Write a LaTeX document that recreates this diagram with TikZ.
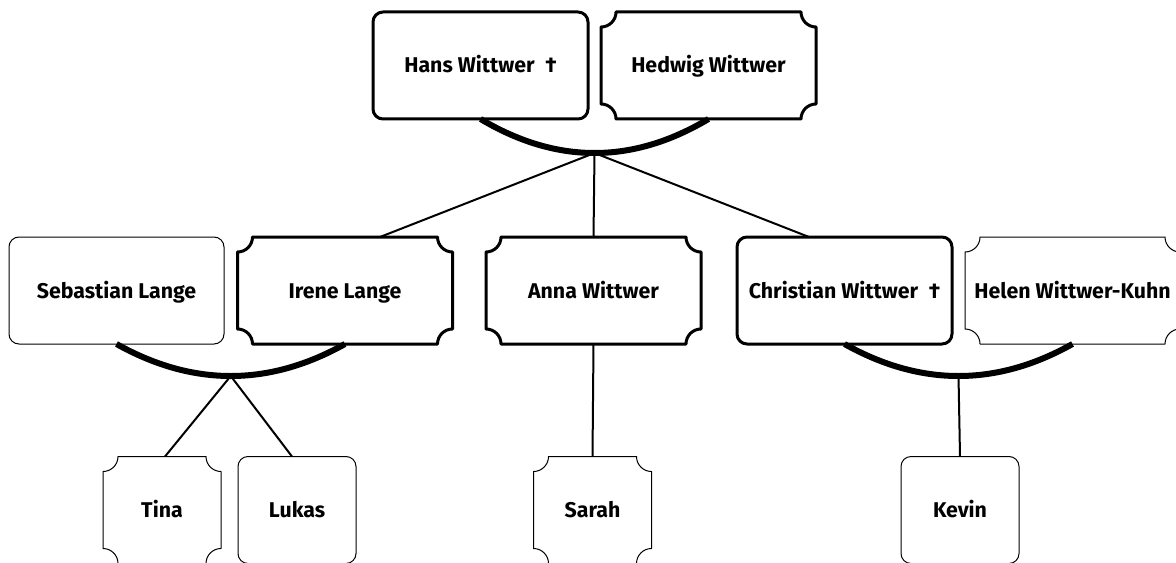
\documentclass[tikz,border=0pt]{standalone}
\usepackage{fontspec}
\setmainfont{Fira Sans}
\usetikzlibrary{calc}
\newcommand\uu{0.75pt}
\newcommand\rr{11.25pt}
\newcommand\MaleFrame[2]{\draw[line width=#2, rounded corners=7.5pt] (#1.north west) rectangle (#1.south east);}
\newcommand\FemFrame[2]{\draw[line width=#2, line join=round] ([xshift=\rr]#1.north west) -- ([xshift=-\rr]#1.north east) arc[start angle=180,end angle=270,radius=\rr] -- ([yshift=\rr]#1.south east) arc[start angle=90,end angle=180,radius=\rr] -- ([xshift=\rr]#1.south west) arc[start angle=0,end angle=90,radius=\rr] -- ([yshift=-\rr]#1.north west) arc[start angle=270,end angle=360,radius=\rr] -- cycle;}
\newcommand\FamArc[3]{\draw[famline] (#1.south) .. controls ($(#1.south)!0.6667!(#2)$) and ($(#3.south)!0.6667!(#2)$) .. (#3.south);}
\begin{document}
\begin{tikzpicture}[x=0.75pt,y=0.75pt,
  person/.style={inner sep=0pt, outer sep=0pt, minimum height=107*\uu, text height=13pt, text depth=1.75pt, font=\bfseries\fontsize{16}{19}\selectfont},
  wide/.style={person, minimum width=215*\uu},
  small/.style={person, minimum width=118*\uu},
  famline/.style={line width=4.5pt},
  conn/.style={line width=1.5pt}]
\useasboundingbox (0,0) rectangle (1176,-563);
\clip (0,0) rectangle (1176,-563);
% nodes
\node[wide] (hans) at (480.5,-65.5) {Hans Wittwer\enspace†};
\node[wide] (hedwig) at (708.5,-65.5) {Hedwig Wittwer};
\node[wide] (sebastian) at (116.5,-290.5) {Sebastian Lange};
\node[wide] (irene) at (345,-290.5) {Irene Lange};
\node[wide] (anna) at (593.5,-290.5) {Anna Wittwer};
\node[wide] (christian) at (844.5,-290.5) {Christian Wittwer\enspace†};
\node[wide] (helen) at (1072.5,-290.5) {Helen Wittwer-Kuhn};
\node[small] (tina) at (162,-510) {Tina};
\node[small] (lukas) at (297,-510) {Lukas};
\node[small] (sarah) at (592.5,-510) {Sarah};
\node[small] (kevin) at (960,-510) {Kevin};
% family points (curve bottoms) and quadratic control points
\coordinate (f1) at (594.5,-153);
\coordinate (c1) at (594.5,-187);
\coordinate (f2) at (230.75,-376);
\coordinate (c2) at (230.75,-408);
\coordinate (f3) at (958.5,-376);
\coordinate (c3) at (958.5,-408);
% connectors
\draw[conn] (f1) -- (irene.north -| 380,0);
\draw[conn] (f1) -- (anna.north);
\draw[conn] (f1) -- (christian.north -| 809,0);
\draw[conn] (f2) -- (tina.north -| 165,0);
\draw[conn] (f2) -- (lukas.north -| 292,0);
\draw[conn] (anna.south) -- (sarah.north);
\draw[conn] (f3) -- (kevin.north);
\FamArc{hans}{c1}{hedwig}
\FamArc{sebastian}{c2}{irene}
\FamArc{christian}{c3}{helen}
% frames
\MaleFrame{hans}{2.25pt}
\FemFrame{hedwig}{2.25pt}
\MaleFrame{sebastian}{0.75pt}
\FemFrame{irene}{2.25pt}
\FemFrame{anna}{2.25pt}
\MaleFrame{christian}{2.25pt}
\FemFrame{helen}{0.75pt}
\FemFrame{tina}{0.75pt}
\MaleFrame{lukas}{0.75pt}
\FemFrame{sarah}{0.75pt}
\MaleFrame{kevin}{0.75pt}
\end{tikzpicture}
\end{document}
